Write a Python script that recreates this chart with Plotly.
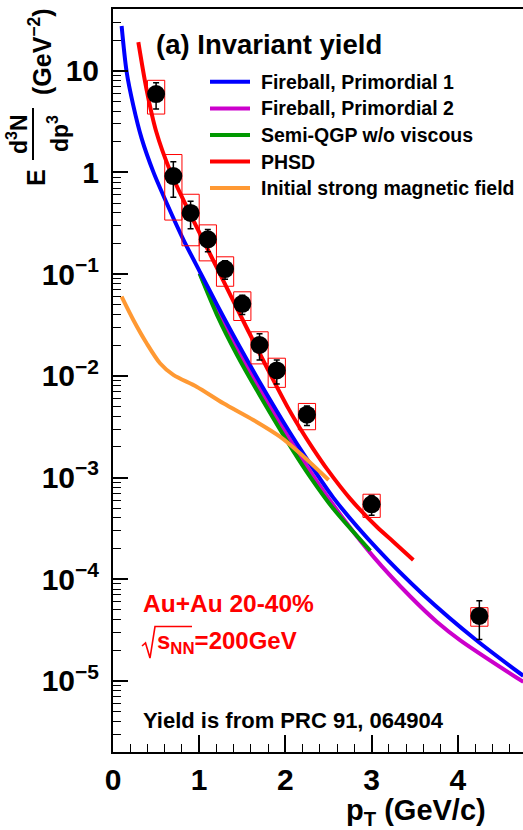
import plotly.graph_objects as go

W, H = 523, 830
L, R, T, B = 113, 0, 9, 78

# ---------------- data ----------------
pt_data = [0.5, 0.7, 0.9, 1.1, 1.3, 1.5, 1.7, 1.9, 2.25, 3.0, 4.25]
yield_data = [5.9, 0.92, 0.40, 0.22, 0.112, 0.051, 0.0201, 0.0113, 0.00415, 5.45e-4, 4.35e-5]
stat_err = [1.7, 0.35, 0.12, 0.054, 0.023, 0.011, 0.0058, 0.003, 0.0009, 1.2e-4, 1.8e-5]
sys_err = [2.15, 0.58, 0.21, 0.085, 0.036, 0.016, 0.007, 0.0036, 0.0012, 1.4e-4, 9e-6]

fb1_pt = [0.10, 0.158, 0.235, 0.332, 0.468, 0.622, 0.819, 1.013, 1.206, 1.442, 1.709, 2.057, 2.208,
          2.553, 3.063, 3.603, 4.223, 4.76]
fb1_y = [27.5, 9.77, 4.57, 2.163, 1.012, 0.501, 0.2163, 0.1035, 0.0501, 0.02128, 0.008472, 0.002723,
         0.001718, 6.383e-4, 1.995e-4, 7.0e-5, 2.483e-5, 1.122e-5]

fb2_pt = [1.005, 1.206, 1.442, 1.709, 2.057, 2.367, 2.695, 3.023, 3.449, 3.759, 4.029, 4.76]
fb2_y = [0.1023, 0.04365, 0.01841, 0.007328, 0.002317, 9.12e-4, 3.715e-4, 1.66e-4, 6.76e-5, 3.80e-5,
         2.51e-5, 9.77e-6]

qgp_pt = [1.005, 1.206, 1.439, 1.709, 2.092, 2.285, 2.559, 2.985]
qgp_y = [0.1012, 0.0398, 0.01603, 0.00631, 0.00182, 0.001023, 4.898e-4, 1.905e-4]

phsd_pt = [0.294, 0.386, 0.502, 0.665, 0.816, 1.013, 1.245, 1.546, 1.801, 2.034, 2.173, 2.324, 2.486,
           2.753, 3.066, 3.252, 3.484]
phsd_y = [19.1, 6.76, 2.512, 1.023, 0.537, 0.2455, 0.0989, 0.0302, 0.01135, 0.004786, 0.00302,
          0.001905, 0.001202, 6.17e-4, 3.24e-4, 2.34e-4, 1.545e-4]

mag_pt = [0.100, 0.236, 0.390, 0.545, 0.700, 0.970, 1.280, 1.628, 1.937, 2.169, 2.501]
mag_y = [0.060, 0.0354, 0.0209, 0.0133, 0.0102, 0.00782, 0.00537, 0.00368, 0.00252, 0.00173, 9.45e-4]

series_names = ["Fireball, Primordial 1", "Fireball, Primordial 2", "Semi-QGP w/o viscous",
                "PHSD", "Initial strong magnetic field"]
series_colors = ["#0000FF", "#CC00CC", "#009900", "#FF0000", "#FF9933"]
series_pt = [fb1_pt, fb2_pt, qgp_pt, phsd_pt, mag_pt]
series_y = [fb1_y, fb2_y, qgp_y, phsd_y, mag_y]
draw_order = [1, 2, 0, 3, 4]

ytick_vals = [1e-5, 1e-4, 1e-3, 1e-2, 1e-1, 1, 10]
ytick_text = ["10<sup>\u22125</sup>", "10<sup>\u22124</sup>", "10<sup>\u22123</sup>",
              "10<sup>\u22122</sup>", "10<sup>\u22121</sup>", "1", "10"]
xtick_vals = [0, 1, 2, 3, 4]
xtick_text = ["0", "1", "2", "3", "4"]

FONT = "Liberation Sans"


def px(x):
    return (x - L) / (W - L - R)


def py(y):
    return (H - B - y) / (H - T - B)


def txt(text, x, y, size, color="black", xanchor="left", angle=0, bold=True):
    return dict(text=text, xref="paper", yref="paper", x=px(x), y=py(y),
                xanchor=xanchor, yanchor="middle", showarrow=False, textangle=angle,
                font=dict(family=FONT, size=size, color=color,
                          weight="bold" if bold else "normal"))


fig = go.Figure()

for i in draw_order:
    fig.add_trace(go.Scatter(x=series_pt[i], y=series_y[i], mode="lines", name=series_names[i],
                             line=dict(color=series_colors[i], width=4, shape="spline", smoothing=0.8),
                             showlegend=False, hoverinfo="skip"))

# systematic boxes
bx, by = [], []
for x, y, s in zip(pt_data, yield_data, sys_err):
    bx += [x - 0.1, x + 0.1, x + 0.1, x - 0.1, x - 0.1, None]
    by += [y - s, y - s, y + s, y + s, y - s, None]
fig.add_trace(go.Scatter(x=bx, y=by, mode="lines", line=dict(color="#FF0000", width=1),
                         showlegend=False, hoverinfo="skip"))

# data points
fig.add_trace(go.Scatter(x=pt_data, y=yield_data, mode="markers",
                         marker=dict(color="black", size=18, symbol="circle"),
                         error_y=dict(type="data", array=stat_err, visible=True,
                                      color="black", thickness=1.5, width=3),
                         showlegend=False, hoverinfo="skip"))

shapes = []
ann = []

# legend (manual, ROOT style)
leg_y = [81.7, 108.5, 135, 161.5, 188]
for name, col, yy in zip(series_names, series_colors, leg_y):
    shapes.append(dict(type="line", xref="paper", yref="paper",
                       x0=px(210), x1=px(250), y0=py(yy), y1=py(yy),
                       line=dict(color=col, width=4)))
    ann.append(txt(name, 259, yy, 19.5))

ann.append(txt("(a) Invariant yield", 154, 44, 27.5))
ann.append(txt("Au+Au 20-40%", 141, 603, 24.5, color="#FF0000"))
ann.append(txt("s<sub>NN</sub>=200GeV", 155, 642, 24, color="#FF0000"))
# radical sign
rad = [(142, 646), (145.5, 643), (150, 658), (155, 626.5), (192, 626.5)]
path = "M " + " L ".join(f"{px(a):.5f},{py(b):.5f}" for a, b in rad)
shapes.append(dict(type="path", xref="paper", yref="paper", path=path,
                   line=dict(color="#FF0000", width=1.6)))
ann.append(txt("Yield is from PRC 91, 064904", 141, 720, 22))

# x title
ann.append(txt("p<sub>T</sub> (GeV/c)", 488, 812, 29, xanchor="right"))

# y title: E d3N/dp3 (GeV-2), rotated
ann.append(txt("E", 36, 178, 25, xanchor="center", angle=-90))
ann.append(txt("d<sup>3</sup>N", 17, 134, 23, xanchor="center", angle=-90))
ann.append(txt("dp<sup>3</sup>", 58, 134, 23, xanchor="center", angle=-90))
shapes.append(dict(type="line", xref="paper", yref="paper", x0=px(33), x1=px(33),
                   y0=py(108), y1=py(160), line=dict(color="black", width=2)))
ann.append(txt("(GeV<sup>\u22122</sup>)", 40, 52, 25, xanchor="center", angle=-90))

yminor = [m * 10 ** e for e in range(-6, 2) for m in range(2, 10)]

fig.update_layout(
    width=W, height=H,
    margin=dict(l=L, r=R, t=T, b=B, pad=0),
    paper_bgcolor="white", plot_bgcolor="white",
    showlegend=False,
    shapes=shapes, annotations=ann,
    xaxis=dict(range=[0, (W - L - R) / 86.2], showgrid=False, zeroline=False,
               showline=True, linecolor="black", linewidth=2, mirror=True,
               ticks="inside", ticklen=17, tickwidth=1.5, tickcolor="black",
               tickvals=xtick_vals, ticktext=xtick_text,
               tickfont=dict(family=FONT, size=30, color="black", weight="bold"),
               minor=dict(ticks="inside", ticklen=8, tickwidth=1.2, tickcolor="black",
                          dtick=0.2, showgrid=False)),
    yaxis=dict(type="log", range=[-5.699, 1.607], showgrid=False, zeroline=False,
               showline=True, linecolor="black", linewidth=2, mirror=False,
               ticks="inside", ticklen=15, tickwidth=1.5, tickcolor="black",
               tickvals=ytick_vals, ticktext=ytick_text, ticklabelstandoff=6,
               tickfont=dict(family=FONT, size=30, color="black", weight="bold"),
               minor=dict(ticks="inside", ticklen=8, tickwidth=1.2, tickcolor="black",
                          tickvals=yminor, showgrid=False)),
)

fig.write_html("out.html", config={"displayModeBar": False})
